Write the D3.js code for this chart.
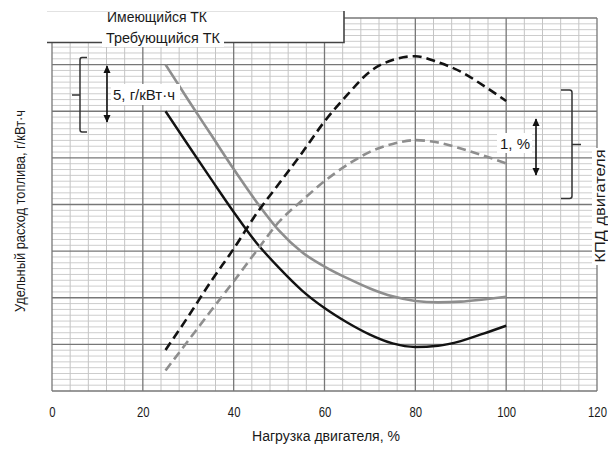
<!DOCTYPE html>
<html>
<head>
<meta charset="utf-8">
<script src="https://cdn.jsdelivr.net/npm/d3@7"></script>
<style>
  body { margin: 0; background: #fff; }
  svg { display: block; }
  text { font-family: "Liberation Sans", Arial, sans-serif; fill: #1a1a1a; }
</style>
</head>
<body>
<svg id="chart" width="608" height="450"></svg>
<script>
// Engine load, %
const loads = [25, 30, 35, 40, 45, 50, 55, 60, 65, 70, 75, 80, 85, 90, 95, 100];
// Specific fuel consumption, g/kWh (relative grid units, 5 g/kWh per major division)
const fuelExisting = [35.0, 31.2, 27.5, 23.8, 20.3, 17.2, 14.9, 13.35, 12.1, 11.0, 10.15, 9.65, 9.5, 9.58, 9.82, 10.1];
const fuelRequired = [30.0, 26.35, 22.75, 19.2, 15.9, 13.2, 10.8, 8.9, 7.35, 6.05, 5.1, 4.72, 4.85, 5.35, 6.15, 7.0];
// Engine efficiency, % (relative grid units, 1 % per major division)
const effExisting = [0.44, 1.08, 1.72, 2.35, 3.0, 3.63, 4.08, 4.5, 4.85, 5.13, 5.3, 5.38, 5.33, 5.2, 5.05, 4.88];
const effRequired = [0.88, 1.6, 2.35, 3.05, 3.8, 4.45, 5.1, 5.78, 6.35, 6.85, 7.1, 7.18, 7.05, 6.85, 6.55, 6.22];
// Axis ticks
const xTicks = [0, 20, 40, 60, 80, 100, 120];
const legendLabels = ["Имеющийся ТК", "Требующийся ТК"];

const svg = d3.select("#chart");

const x = d3.scaleLinear().domain([0, 120]).range([52, 597]);
const yFuel = d3.scaleLinear().domain([0, 40]).range([391, 18]);
const yEff = d3.scaleLinear().domain([0, 8]).range([391, 18]);

// Condensed look: squeeze each label to its set width
function squeeze(sel, w) {
  return sel.attr("textLength", w).attr("lengthAdjust", "spacingAndGlyphs");
}

// ---- grid ----
const grid = svg.append("g");
const minorX = d3.range(0, 120.01, 4).filter(v => v % 20 !== 0);
const minorY = d3.range(0, 40.01, 0.625).filter(v => Math.abs(v / 5 - Math.round(v / 5)) > 1e-6);
const majorY = d3.range(0, 40.01, 5);

grid.selectAll("line.minor-h").data(minorY).join("line")
  .attr("x1", x(0)).attr("x2", x(120))
  .attr("y1", d => yFuel(d)).attr("y2", d => yFuel(d))
  .attr("stroke", "#cdcdcd").attr("stroke-width", 1);
grid.selectAll("line.minor-v").data(minorX).join("line")
  .attr("y1", yFuel(0)).attr("y2", yFuel(40))
  .attr("x1", d => x(d)).attr("x2", d => x(d))
  .attr("stroke", "#c4c4c4").attr("stroke-width", 1);
grid.selectAll("line.major-h").data(majorY).join("line")
  .attr("x1", x(0)).attr("x2", x(120))
  .attr("y1", d => yFuel(d)).attr("y2", d => yFuel(d))
  .attr("stroke", "#777").attr("stroke-width", 1.3);
grid.selectAll("line.major-v").data(xTicks).join("line")
  .attr("y1", yFuel(0)).attr("y2", yFuel(40))
  .attr("x1", d => x(d)).attr("x2", d => x(d))
  .attr("stroke", "#777").attr("stroke-width", 1.3);

// ---- header with the two turbocharger labels ----
const head = svg.append("g");
head.append("rect").attr("x", 40).attr("y", 0).attr("width", 304).attr("height", 42).attr("fill", "#fff");
head.append("line").attr("x1", 47).attr("x2", 344).attr("y1", 11.5).attr("y2", 11.5)
  .attr("stroke", "#e2e2e2").attr("stroke-width", 1);
head.append("path").attr("d", "M47,42.5H344V11")
  .attr("fill", "none").attr("stroke", "#444").attr("stroke-width", 1.6);
head.append("rect").attr("x", 102).attr("y", 29).attr("width", 122).attr("height", 18).attr("fill", "#fff");
squeeze(head.append("text").attr("x", 107).attr("y", 22).attr("font-size", 14), 100).text(legendLabels[0]);
squeeze(head.append("text").attr("x", 106).attr("y", 42.5).attr("font-size", 14), 114).text(legendLabels[1]);

// ---- curves ----
const lineFuel = d3.line().x((d, i) => x(loads[i])).y(d => yFuel(d)).curve(d3.curveMonotoneX);
const lineEff = d3.line().x((d, i) => x(loads[i])).y(d => yEff(d)).curve(d3.curveMonotoneX);

const curves = svg.append("g").attr("fill", "none").attr("stroke-linecap", "butt");
curves.append("path").attr("d", lineFuel(fuelExisting)).attr("stroke", "#8e8e8e").attr("stroke-width", 2.6);
curves.append("path").attr("d", lineFuel(fuelRequired)).attr("stroke", "#121212").attr("stroke-width", 2.4);
curves.append("path").attr("d", lineEff(effExisting)).attr("stroke", "#8e8e8e").attr("stroke-width", 2.6)
  .attr("stroke-dasharray", "9,5");
curves.append("path").attr("d", lineEff(effRequired)).attr("stroke", "#121212").attr("stroke-width", 2.6)
  .attr("stroke-dasharray", "9,5");

// ---- scale annotations ----
const defs = svg.append("defs");
defs.append("marker").attr("id", "head").attr("viewBox", "0 0 10 10")
  .attr("refX", 9).attr("refY", 5).attr("markerWidth", 8).attr("markerHeight", 8)
  .attr("markerUnits", "userSpaceOnUse").attr("orient", "auto-start-reverse")
  .append("path").attr("d", "M0,0.5L10,5L0,9.5Z").attr("fill", "#111");

const ann = svg.append("g");
// left: 5 g/kWh per division
ann.append("path").attr("d", "M87,57.5H82Q80,57.5 80,60V129.5Q80,132 82,132H87M72,95H80")
  .attr("fill", "none").attr("stroke", "#333").attr("stroke-width", 1.5);
ann.append("line").attr("x1", 107).attr("x2", 107).attr("y1", 94).attr("y2", 66)
  .attr("stroke", "#111").attr("stroke-width", 1.6).attr("marker-end", "url(#head)");
ann.append("line").attr("x1", 107).attr("x2", 107).attr("y1", 94).attr("y2", 122)
  .attr("stroke", "#111").attr("stroke-width", 1.6).attr("marker-end", "url(#head)");
ann.append("rect").attr("x", 111).attr("y", 84).attr("width", 69).attr("height", 21).attr("fill", "#fff");
squeeze(ann.append("text").attr("x", 113).attr("y", 100).attr("font-size", 14), 62).text("5, г/кВт·ч");

// right: 1 % per division
ann.append("path").attr("d", "M561,90H569.5Q572,90 572,92.5V196Q572,198.5 569.5,198.5H561M572,144.5H581")
  .attr("fill", "none").attr("stroke", "#333").attr("stroke-width", 1.5);
ann.append("line").attr("x1", 536).attr("x2", 536).attr("y1", 147).attr("y2", 119)
  .attr("stroke", "#111").attr("stroke-width", 1.6).attr("marker-end", "url(#head)");
ann.append("line").attr("x1", 536).attr("x2", 536).attr("y1", 147).attr("y2", 175)
  .attr("stroke", "#111").attr("stroke-width", 1.6).attr("marker-end", "url(#head)");
ann.append("rect").attr("x", 497).attr("y", 133).attr("width", 35).attr("height", 20).attr("fill", "#fff");
squeeze(ann.append("text").attr("x", 500).attr("y", 149).attr("font-size", 14), 30).text("1, %");

// ---- x axis labels ----
const xAxis = svg.append("g").attr("transform", `translate(0,${yFuel(0)})`)
  .call(d3.axisBottom(x).tickValues(xTicks).tickSize(0).tickPadding(15).tickFormat(d3.format("d")));
xAxis.select(".domain").remove();
xAxis.selectAll("text").attr("font-size", 15).attr("fill", "#1a1a1a")
  .style("font-family", "'Liberation Sans',Arial,sans-serif")
  .each(function(d) { squeeze(d3.select(this), String(d).length * 6.3); });

squeeze(svg.append("text").attr("x", 326).attr("y", 441).attr("font-size", 14).attr("text-anchor", "middle"), 148)
  .text("Нагрузка двигателя, %");

// ---- y axis titles ----
squeeze(svg.append("text").attr("transform", "translate(25,211) rotate(-90)").attr("font-size", 14)
  .attr("text-anchor", "middle"), 202)
  .text("Удельный расход топлива, г/кВт·ч");

svg.append("rect").attr("x", 592).attr("y", 148).attr("width", 16).attr("height", 117).attr("fill", "#fff");
squeeze(svg.append("text").attr("transform", "translate(605,206) rotate(-90)").attr("font-size", 14)
  .attr("text-anchor", "middle"), 113)
  .text("КПД двигателя");
</script>
</body>
</html>
